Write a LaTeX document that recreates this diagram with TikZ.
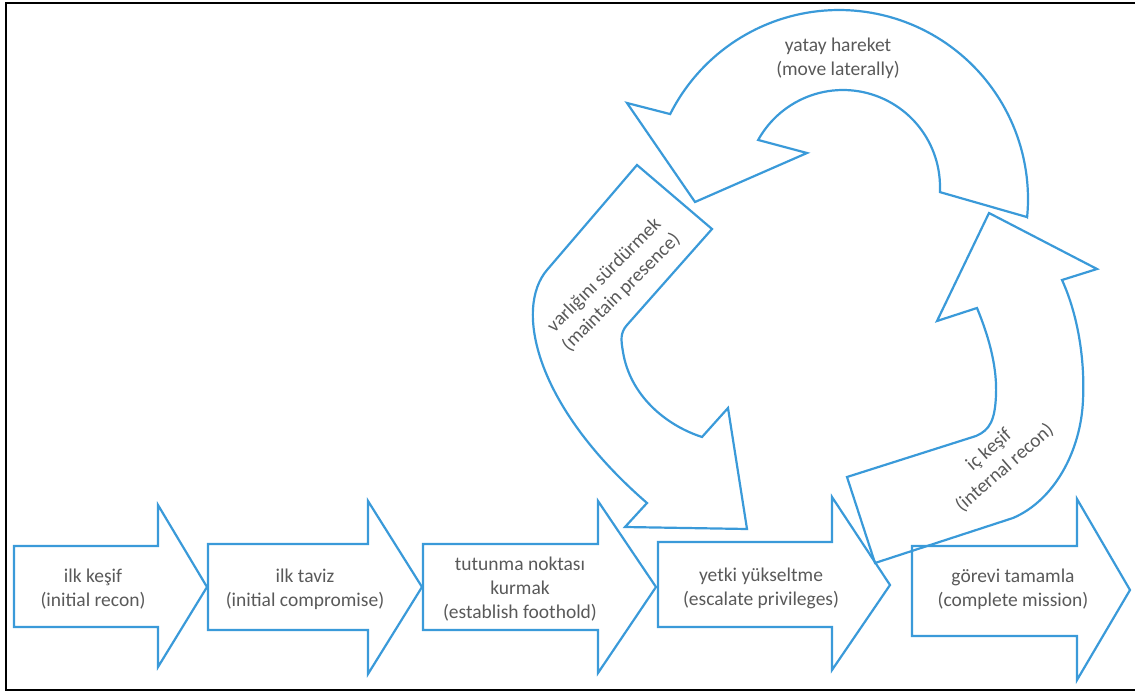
\documentclass[tikz,border=0pt]{standalone}
\usepackage{fontspec}
\setmainfont{Carlito}
\definecolor{flowblue}{HTML}{3A9AD9}
\definecolor{labelgray}{HTML}{595959}
\begin{document}
\begin{tikzpicture}[x=1bp,y=-1bp,
  outline/.style={draw=flowblue, line width=2.2bp, line join=miter},
  caption/.style={text=labelgray, align=center, inner sep=0pt,
    font=\fontsize{19.5bp}{24bp}\selectfont}]
\useasboundingbox (0,0) rectangle (1135,692);

% frame (open on the right)
\draw[line width=2bp] (1135,3.3) -- (6,3.3) -- (6,689.5) -- (1135,689.5);

% ---- straight block arrows along the bottom ----
\draw[outline] (14,546) -- (158,546) -- (158,505) -- (207,587)
  -- (158,667) -- (158,627) -- (14,627) -- cycle;
\draw[outline] (208,544) -- (368,544) -- (368,501) -- (422,587)
  -- (368,674) -- (368,630) -- (208,630) -- cycle;
\draw[outline] (423,544) -- (598,544) -- (598,501) -- (656,587)
  -- (598,673) -- (598,630) -- (423,630) -- cycle;
\draw[outline] (658,542) -- (832,542) -- (832,497) -- (890,585)
  -- (832,670) -- (832,627) -- (658,627) -- cycle;
\draw[outline] (912,546) -- (1077,546) -- (1077,499) -- (1130,590)
  -- (1077,680) -- (1077,636) -- (912,636) -- cycle;

% ---- curved arrow: move laterally ----
\draw[outline] (939.9,192.1) -- (1027.1,217.1)
  -- plot[domain=365.5:206.7, samples=90, variable=\a]
       ({839+189*cos(\a)},{199+189*sin(\a)})
  -- (627,103) -- (695,202) -- (807,153)
  -- plot[domain=209:363, samples=60, variable=\a]
       ({843+97*cos(\a)},{187+97*sin(\a)})
  -- cycle;

% ---- curved arrow: maintain presence ----
\draw[outline] (637,165) -- (547,270)
  .. controls (514.5,308) and (534,405) .. (647,503)
  -- (625,527) -- (747,529) -- (728,408) -- (702,437)
  .. controls (665,425) and (630,395) .. (623,352)
  .. controls (621,340) and (620,333) .. (627,325)
  -- (712,229) -- cycle;

% ---- curved arrow: internal recon ----
\draw[outline] (847,477) -- (976,436)
  .. controls (990,430) and (995,420) .. (996,395)
  .. controls (997,370) and (991,342) .. (977,308)
  -- (937,321) -- (989,213) -- (1097,269) -- (1062,280)
  .. controls (1078,315) and (1085,360) .. (1083,400)
  .. controls (1081,450) and (1055,500) .. (1013,518)
  -- (875,563) -- cycle;

% ---- labels ----
\node[caption] (recon)    at (93,589)   {ilk keşif\\(initial recon)};
\node[caption] (compr)    at (305,589)  {ilk taviz\\(initial compromise)};
\node[caption] (foothold) at (520,589)  {tutunma noktası\\kurmak\\(establish foothold)};
\node[caption] (escal)    at (761,588)  {yetki yükseltme\\(escalate privileges)};
\node[caption] (mission)  at (1013,589) {görevi tamamla\\(complete mission)};
\node[caption] (lateral)  at (838,58)   {yatay hareket\\(move laterally)};
\node[caption, rotate=45] (presence) at (613,284) {varlığını sürdürmek\\(maintain presence)};
\node[caption, rotate=41] (internal) at (997,459) {iç keşif\\(internal recon)};
\end{tikzpicture}
\end{document}
